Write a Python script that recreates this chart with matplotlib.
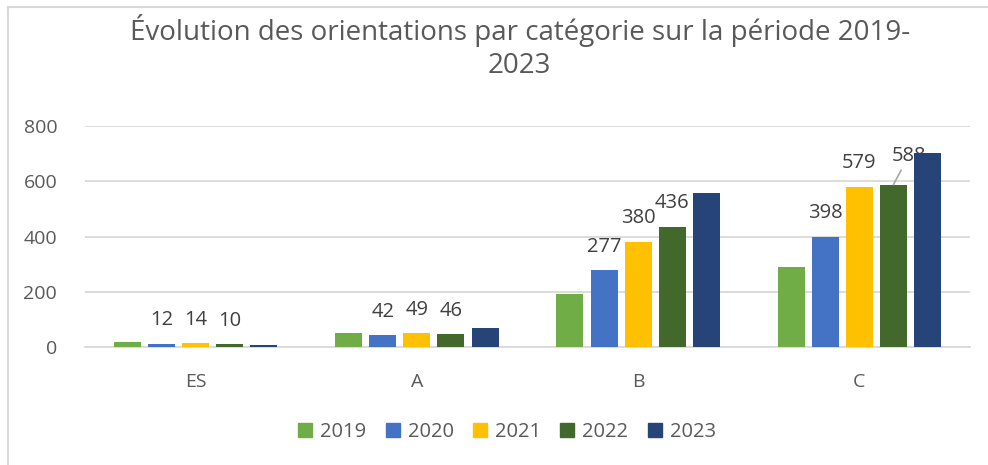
import matplotlib
matplotlib.use("Agg")
import matplotlib.pyplot as plt
import numpy as np
from matplotlib.lines import Line2D

categories = ["ES", "A", "B", "C"]
years = ["2019", "2020", "2021", "2022", "2023"]
v2019 = [17, 50, 191, 291]
v2020 = [12, 42, 277, 398]
v2021 = [14, 49, 380, 579]
v2022 = [10, 46, 436, 588]
v2023 = [6, 69, 558, 704]
series = [v2019, v2020, v2021, v2022, v2023]
labelled = [False, True, True, True, False]
colors = ["#70ad47", "#4472c4", "#ffc000", "#43682b", "#264478"]
yticks = [0, 200, 400, 600, 800]

plt.rcParams['font.family'] = ['Open Sans', 'DejaVu Sans']
txt = "#595959"
fig = plt.figure(figsize=(9.88, 4.65), dpi=100)
ax = fig.add_axes([85/988, 1-347/465, 885/988, 221/465])

x = np.arange(len(categories))
step = 0.154
width = 0.122
for i, (vals, col) in enumerate(zip(series, colors)):
    pos = x + (i - 2) * step
    bars = ax.bar(pos, vals, width=width, color=col, label=years[i], zorder=3)
    if labelled[i]:
        for j, (p, v) in enumerate(zip(pos, vals)):
            if categories[j] == "C" and years[i] == "2022":
                ax.annotate(str(v), xy=(p, v), xytext=(p + 0.07, v + 105),
                            ha="center", va="center", fontsize=14.5, color="#404040",
                            arrowprops=dict(arrowstyle="-", color="#a6a6a6", lw=1.2,
                                            patchA=None, shrinkA=12, shrinkB=0))
            else:
                ax.annotate(str(v), xy=(p, v), xytext=(0, 17), textcoords="offset points",
                            ha="center", va="center", fontsize=14.5, color="#404040")

ax.set_xlim(-0.5, 3.5)
ax.set_ylim(0, 800)
ax.set_yticks(yticks)
ax.set_yticklabels([str(t) for t in yticks])
ax.set_xticks(x)
ax.set_xticklabels(categories)
ax.yaxis.grid(True, color="#d9d9d9", lw=1.3, zorder=0)
ax.set_axisbelow(True)
for s in ["top", "right", "left"]:
    ax.spines[s].set_visible(False)
ax.spines["bottom"].set_color("#d9d9d9")
ax.spines["bottom"].set_linewidth(1.3)
ax.tick_params(axis="both", length=0, labelsize=14, colors=txt)
ax.tick_params(axis="y", pad=20)
ax.tick_params(axis="x", pad=19)

fig.text(0.526, 1-47/465, "Évolution des orientations par catégorie sur la période 2019-\n2023",
         ha="center", va="center", fontsize=20, color=txt, linespacing=1.2)

handles = [plt.Rectangle((0, 0), 1, 1, color=c) for c in colors]
fig.legend(handles, years, loc="center", bbox_to_anchor=(507/988, 1-432/465), ncol=5,
           frameon=False, fontsize=14.5, labelcolor=txt, handlelength=0.7, handleheight=0.7,
           handletextpad=0.4, columnspacing=0.95)

fig.add_artist(Line2D([8/988, 1], [1-7/465, 1-7/465], color="#d9d9d9", lw=1.5, transform=fig.transFigure))
fig.add_artist(Line2D([8/988, 8/988], [0, 1-7/465], color="#d9d9d9", lw=1.5, transform=fig.transFigure))

fig.savefig("out.png", dpi=100)
